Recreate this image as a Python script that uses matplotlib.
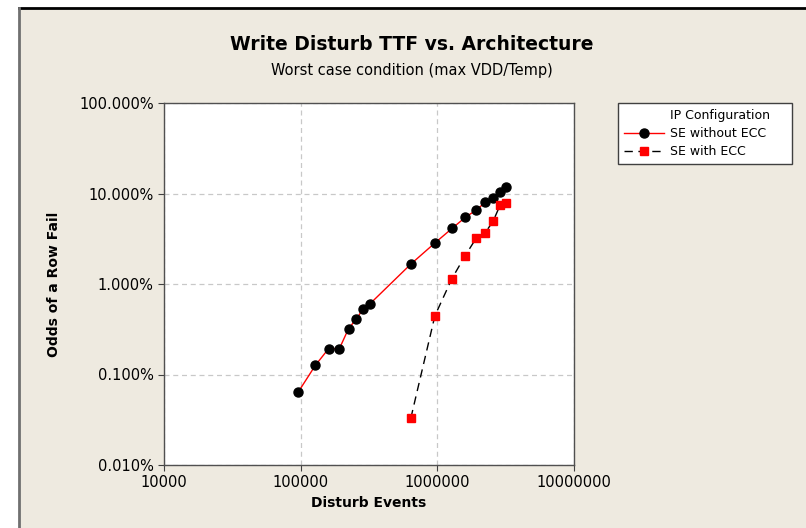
import numpy as np
import matplotlib.pyplot as plt
from matplotlib.lines import Line2D
from matplotlib.patches import Rectangle
from matplotlib.ticker import FuncFormatter, FixedLocator

# disturb events vs. cumulative row fail odds (%)
events_no_ecc = [96000, 128000, 160000, 192000, 224000, 256000, 288000, 320000,
                 640000, 960000, 1280000, 1600000, 1920000, 2240000, 2560000,
                 2880000, 3200000]
odds_no_ecc = [0.064, 0.126, 0.193, 0.193, 0.321, 0.413, 0.536, 0.60,
               1.66, 2.84, 4.11, 5.44, 6.55, 7.96, 8.95, 10.26, 11.8]

events_ecc = [640000, 960000, 1280000, 1600000, 1920000, 2240000, 2560000,
              2880000, 3200000]
odds_ecc = [0.033, 0.446, 1.15, 2.06, 3.19, 3.68, 4.95, 7.43, 7.88]

x_ticks = [1e4, 1e5, 1e6, 1e7]
y_ticks = [0.01, 0.1, 1, 10, 100]

bg = '#EEEAE0'
plt.rcParams['font.family'] = 'DejaVu Sans'

fig = plt.figure(figsize=(8.06, 5.28), dpi=100)
fig.patch.set_facecolor('white')

# beige panel with a dark top and left edge
W, H = 806.0, 528.0
fig.add_artist(Rectangle((19 / W, 0), 1.0, 1 - 8 / H, transform=fig.transFigure,
                         facecolor=bg, edgecolor='none', zorder=-10))
fig.add_artist(Line2D([19 / W, 1.0], [1 - 8 / H, 1 - 8 / H], transform=fig.transFigure,
                      color='black', lw=2))
fig.add_artist(Line2D([19 / W, 19 / W], [0, 1 - 8 / H], transform=fig.transFigure,
                      color='#707070', lw=2))

ax = fig.add_axes([164 / W, 1 - 465 / H, (574 - 164) / W, (465 - 103) / H])
ax.set_facecolor('white')

ax.plot(events_no_ecc, odds_no_ecc, color='red', lw=1, marker='o',
        markersize=6.5, markerfacecolor='black', markeredgecolor='black',
        label='SE without ECC', zorder=3)
ax.plot(events_ecc, odds_ecc, color='black', lw=1, dashes=(6, 4), marker='s',
        markersize=6, markerfacecolor='red', markeredgecolor='red',
        label='SE with ECC', zorder=3)

ax.set_xscale('log')
ax.set_yscale('log')
ax.set_xlim(1e4, 1e7)
ax.set_ylim(0.01, 100)
ax.xaxis.set_major_locator(FixedLocator(x_ticks))
ax.yaxis.set_major_locator(FixedLocator(y_ticks))
ax.xaxis.set_minor_locator(FixedLocator([]))
ax.yaxis.set_minor_locator(FixedLocator([]))
ax.xaxis.set_major_formatter(FuncFormatter(lambda v, p: f'{int(round(v))}'))
ax.yaxis.set_major_formatter(FuncFormatter(lambda v, p: f'{v:.3f}%'))
ax.tick_params(axis='both', direction='out', length=4, labelsize=10.5, color='#404040')

ax.grid(True, which='major', color='#C8C8C8', linestyle=(0, (4, 3)), lw=0.9)
for s in ax.spines.values():
    s.set_color('#505050')
    s.set_linewidth(1)

ax.set_xlabel('Disturb Events', fontsize=10, fontweight='bold', labelpad=4)
ax.set_ylabel('Odds of a Row Fail', fontsize=10, fontweight='bold', labelpad=13)

fig.text(412 / W, 1 - 45 / H, 'Write Disturb TTF vs. Architecture', ha='center',
         va='center', fontsize=13.5, fontweight='bold')
fig.text(412 / W, 1 - 71 / H, 'Worst case condition (max VDD/Temp)', ha='center',
         va='center', fontsize=10.5)

# legend with the title as a first row aligned to the entry texts
handles = [Line2D([], [], linestyle='none')] + ax.get_legend_handles_labels()[0]
labels = ['IP Configuration    '] + ax.get_legend_handles_labels()[1]
leg = fig.legend(handles, labels, loc='upper left',
                 bbox_to_anchor=(618 / W, 1 - 103 / H), fontsize=9,
                 fancybox=False, framealpha=1, edgecolor='#404040',
                 handlelength=3.2, handletextpad=0.5, labelspacing=0.42,
                 borderpad=0.45, borderaxespad=0)
leg.get_frame().set_linewidth(1)

fig.savefig('out.png', dpi=100, facecolor=fig.get_facecolor())
